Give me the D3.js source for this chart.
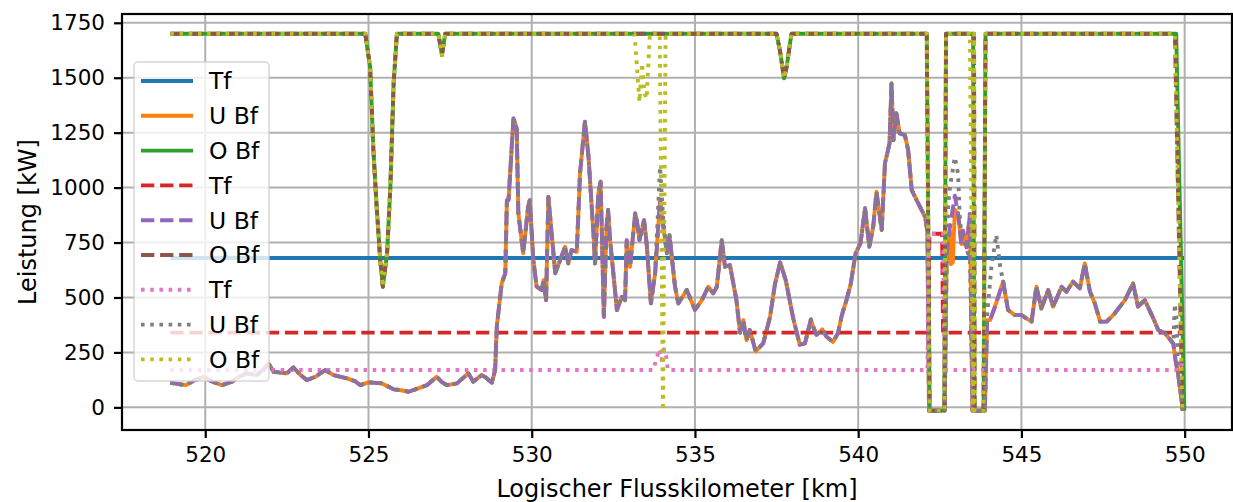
<!DOCTYPE html>
<html>
<head>
<meta charset="utf-8">
<script src="https://cdn.jsdelivr.net/npm/d3@7"></script>
<style>
  html, body { margin: 0; padding: 0; background: #fff; }
  svg { display: block; font-family: "DejaVu Sans", sans-serif; }
</style>
</head>
<body>
<div id="chart"></div>
<script>
// Leistung entlang des Flusskilometers, drei Fahrtmodi x drei Linienstile

const xTicks = [520, 525, 530, 535, 540, 545, 550];
const yTicks = [0, 250, 500, 750, 1000, 1250, 1500, 1750];

// [km, kW]
const tfSolid  = [[518.93, 680], [549.98, 680]];
const tfDashed = [[518.93, 340], [542.15, 340], [542.18, 790], [542.57, 790], [542.6, 340], [549.9, 340]];
const tfDotted = [[518.93, 170], [533.72, 170], [533.85, 235], [533.92, 265], [533.98, 215], [534.05, 265],
  [534.12, 230], [534.17, 170], [542.12, 170], [542.16, 790], [542.6, 790], [542.64, 170], [549.85, 170], [549.97, 215]];

const uBfBase = [
  [518.93, 112], [519.1, 108], [519.39, 101], [519.7, 125], [519.95, 139], [520.2, 118], [520.51, 101], [520.82, 117],
  [521.05, 140], [521.28, 155], [521.58, 147], [521.8, 175], [521.94, 200], [522.09, 162], [522.3, 158], [522.5, 155],
  [522.7, 182], [522.9, 150], [523.11, 124], [523.37, 139], [523.67, 170], [523.93, 147], [524.34, 132], [524.6, 118],
  [524.75, 101], [525.0, 114], [525.41, 109], [525.77, 82], [526.0, 78], [526.23, 71], [526.5, 85], [526.79, 101],
  [527.09, 139], [527.25, 115], [527.4, 101], [527.71, 109], [528.06, 155], [528.21, 117], [528.47, 147], [528.6, 135],
  [528.78, 112], [528.88, 170], [528.93, 367], [529.08, 564], [529.19, 610], [529.24, 943], [529.29, 943], [529.44, 1315],
  [529.54, 1270], [529.59, 883], [529.74, 701], [529.89, 913], [529.94, 943], [530.05, 670], [530.15, 549], [530.31, 534],
  [530.36, 579], [530.44, 488], [530.51, 958], [530.61, 792], [530.72, 610], [530.87, 670], [531.02, 731], [531.12, 655],
  [531.22, 716], [531.38, 708], [531.48, 1065], [531.63, 1300], [531.74, 1140], [531.89, 792], [531.94, 655], [532.04, 974],
  [532.11, 1027], [532.21, 412], [532.29, 822], [532.34, 898], [532.4, 761], [532.61, 443], [532.76, 503], [532.86, 488],
  [532.91, 761], [533.01, 640], [533.17, 883], [533.22, 850], [533.3, 761], [533.44, 852], [533.52, 746], [533.65, 473],
  [533.78, 610], [533.93, 943], [534.03, 822], [534.14, 701], [534.22, 784], [534.29, 685], [534.39, 549], [534.49, 473],
  [534.75, 534], [535.0, 443], [535.21, 488], [535.41, 549], [535.56, 519], [535.67, 549], [535.82, 761], [535.92, 640],
  [536.07, 648], [536.27, 488], [536.38, 340], [536.48, 397], [536.58, 306], [536.68, 352], [536.86, 255], [537.09, 291],
  [537.3, 412], [537.45, 560], [537.61, 660], [537.78, 579], [538.01, 405], [538.21, 285], [538.37, 291], [538.55, 400],
  [538.62, 367], [538.72, 330], [538.9, 355], [539.03, 321], [539.23, 298], [539.38, 337], [539.5, 420], [539.64, 488],
  [539.77, 560], [539.92, 701], [540.07, 746], [540.21, 906], [540.34, 731], [540.46, 822], [540.56, 981], [540.72, 807],
  [540.82, 1110], [540.96, 1201], [541.02, 1474], [541.08, 1216], [541.17, 1338], [541.27, 1247], [541.43, 1239],
  [541.53, 1171], [541.64, 989], [541.84, 928], [542.05, 867], [542.12, 800], [542.17, -15], [542.65, -15],
  [542.71, 698], [542.81, 819], [542.96, 963], [543.06, 880], [543.16, 743], [543.21, 804], [543.32, 728], [543.42, 880],
  [543.5, -15], [543.88, -15], [543.95, 397], [544.04, 397], [544.19, 458], [544.44, 572], [544.59, 443], [544.8, 420],
  [545.0, 420], [545.31, 390], [545.46, 549], [545.61, 450], [545.82, 534], [545.97, 458], [546.23, 549], [546.38, 526],
  [546.58, 572], [546.79, 541], [546.94, 655], [547.1, 526], [547.25, 473], [547.41, 390], [547.61, 390], [547.86, 428],
  [548.17, 488], [548.42, 564], [548.57, 458], [548.78, 488], [549.04, 405], [549.19, 352], [549.4, 337], [549.65, 291],
  [549.72, 215], [549.8, 150], [549.95, -15]
];
// where the solid / dotted U Bf runs differ from the dashed one
const uBfSolidPatch  = [[542.71, 698], [542.81, 800], [542.84, 652], [542.9, 660], [542.96, 900], [543.06, 880]];
const uBfDottedPatch1 = [[533.78, 610], [533.93, 1094], [534.03, 850]];
const uBfDottedPatch2 = [[542.71, 700], [542.76, 925], [542.81, 1003], [542.96, 1138], [543.06, 1062], [543.11, 865],
  [543.16, 789], [543.27, 743], [543.37, 698], [543.42, 760]];
const uBfDottedPatch3 = [[543.95, 420], [544.08, 640], [544.23, 785], [544.35, 640], [544.44, 572]];
const uBfDottedPatch4 = [[549.65, 291], [549.7, 470], [549.75, 400], [549.8, 150]];

const oBfBase = [
  [518.93, 1700], [524.9, 1700], [525.05, 1550], [525.15, 1171], [525.25, 913], [525.36, 670], [525.44, 549],
  [525.57, 701], [525.67, 1004], [525.77, 1474], [525.87, 1700], [527.14, 1700], [527.25, 1603], [527.35, 1700],
  [537.5, 1700], [537.6, 1626], [537.73, 1497], [537.81, 1550], [537.91, 1655], [537.96, 1700], [542.1, 1700],
  [542.19, -15], [542.64, -15], [542.69, 1700], [543.55, 1700], [543.57, -15], [543.84, -15], [543.9, 1700],
  [549.7, 1700], [549.93, -15]
];
const oBfSolidPatch1 = [[543.52, 1700], [543.56, -15]];
const oBfSolidPatch2 = [[549.74, 1700], [549.99, -15]];
const oBfDottedPatch1 = [[533.15, 1700], [533.3, 1390], [533.38, 1565], [533.45, 1430], [533.52, 1405], [533.62, 1700],
  [533.92, 1700], [534.02, -15], [534.1, 1700]];
const oBfDottedPatch2 = [[543.42, 1700], [543.52, -15]];

const labels = ['Tf', 'U Bf', 'O Bf', 'Tf', 'U Bf', 'O Bf', 'Tf', 'U Bf', 'O Bf'];
const colors = ['#1f77b4', '#ff7f0e', '#2ca02c', '#d62728', '#9467bd', '#8c564b', '#e377c2', '#7f7f7f', '#bcbd22'];

// replace the base points inside each patch's km range by the patch points
function patched(base, ...patches) {
  let pts = base.slice();
  patches.forEach(p => {
    const lo = p[0][0], hi = p[p.length - 1][0];
    pts = pts.filter(d => d[0] < lo || d[0] > hi).concat(p);
  });
  return pts.sort((a, b) => a[0] - b[0]);
}

const DASHED = '13.3,5.8';
const DOTTED = '3.6,5.6';
const LW = 3.9;

const series = [
  { data: tfSolid, dash: null },
  { data: patched(uBfBase, uBfSolidPatch), dash: null },
  { data: patched(oBfBase, oBfSolidPatch1, oBfSolidPatch2), dash: null },
  { data: tfDashed, dash: DASHED },
  { data: uBfBase, dash: DASHED },
  { data: oBfBase, dash: DASHED },
  { data: tfDotted, dash: DOTTED },
  { data: patched(uBfBase, uBfDottedPatch1, uBfDottedPatch2, uBfDottedPatch3, uBfDottedPatch4), dash: DOTTED },
  { data: patched(oBfBase, oBfDottedPatch1, oBfDottedPatch2), dash: DOTTED }
];

const W = 1233, H = 502;
const margin = { top: 14, right: 1, bottom: 72, left: 122 };
const iw = W - margin.left - margin.right;
const ih = H - margin.top - margin.bottom;

const x = d3.scaleLinear().domain([517.45, 551.45]).range([0, iw]);
const y = d3.scaleLinear().domain([-103, 1790]).range([ih, 0]);

const svg = d3.select('#chart').append('svg').attr('width', W).attr('height', H);
const g = svg.append('g').attr('transform', `translate(${margin.left},${margin.top})`);

// grid
g.append('g').selectAll('line').data(xTicks).join('line')
  .attr('x1', d => x(d)).attr('x2', d => x(d)).attr('y1', 0).attr('y2', ih)
  .attr('stroke', '#b0b0b0').attr('stroke-width', 2);
g.append('g').selectAll('line').data(yTicks).join('line')
  .attr('x1', 0).attr('x2', iw).attr('y1', d => y(d)).attr('y2', d => y(d))
  .attr('stroke', '#b0b0b0').attr('stroke-width', 2);

svg.append('clipPath').attr('id', 'plot-clip')
  .append('rect').attr('width', iw).attr('height', ih);

const line = d3.line().x(d => x(d[0])).y(d => y(d[1]));
const lines = g.append('g').attr('clip-path', 'url(#plot-clip)');
series.forEach((s, i) => {
  lines.append('path')
    .attr('d', line(s.data))
    .attr('fill', 'none')
    .attr('stroke', colors[i])
    .attr('stroke-width', LW)
    .attr('stroke-linejoin', 'round')
    .attr('stroke-dasharray', s.dash);
});

// axes
const xAxis = g.append('g').attr('transform', `translate(0,${ih})`)
  .call(d3.axisBottom(x).tickValues(xTicks).tickSize(8).tickPadding(9).tickFormat(d3.format('d')));
const yAxis = g.append('g')
  .call(d3.axisLeft(y).tickValues(yTicks).tickSize(8).tickPadding(9).tickFormat(d3.format('d')));
[xAxis, yAxis].forEach(a => {
  a.select('.domain').remove();
  a.selectAll('line').attr('stroke', '#000').attr('stroke-width', 2.2);
  a.selectAll('text').attr('fill', '#000').style('font-size', '21.5px').style('font-family', '"DejaVu Sans", sans-serif');
});

g.append('rect').attr('width', iw).attr('height', ih)
  .attr('fill', 'none').attr('stroke', '#000').attr('stroke-width', 2.2);

svg.append('text')
  .attr('x', margin.left + iw / 2).attr('y', 497)
  .attr('text-anchor', 'middle').style('font-size', '24px')
  .text('Logischer Flusskilometer [km]');
svg.append('text')
  .attr('transform', `translate(36,${margin.top + ih / 2}) rotate(-90)`)
  .attr('text-anchor', 'middle').style('font-size', '24px')
  .text('Leistung [kW]');

// legend
const leg = svg.append('g').attr('transform', 'translate(134,62)');
leg.append('rect').attr('width', 135).attr('height', 319).attr('rx', 4)
  .attr('fill', '#fff').attr('fill-opacity', 0.8)
  .attr('stroke', '#cccccc').attr('stroke-opacity', 0.8).attr('stroke-width', 1.5);
labels.forEach((lab, i) => {
  const cy = 19 + i * 34.8;
  leg.append('line').attr('x1', 7).attr('x2', 59).attr('y1', cy).attr('y2', cy)
    .attr('stroke', colors[i]).attr('stroke-width', LW)
    .attr('stroke-dasharray', series[i].dash);
  leg.append('text').attr('x', 75).attr('y', cy).attr('dy', '0.36em')
    .style('font-size', '23.5px').text(lab);
});
</script>
</body>
</html>
